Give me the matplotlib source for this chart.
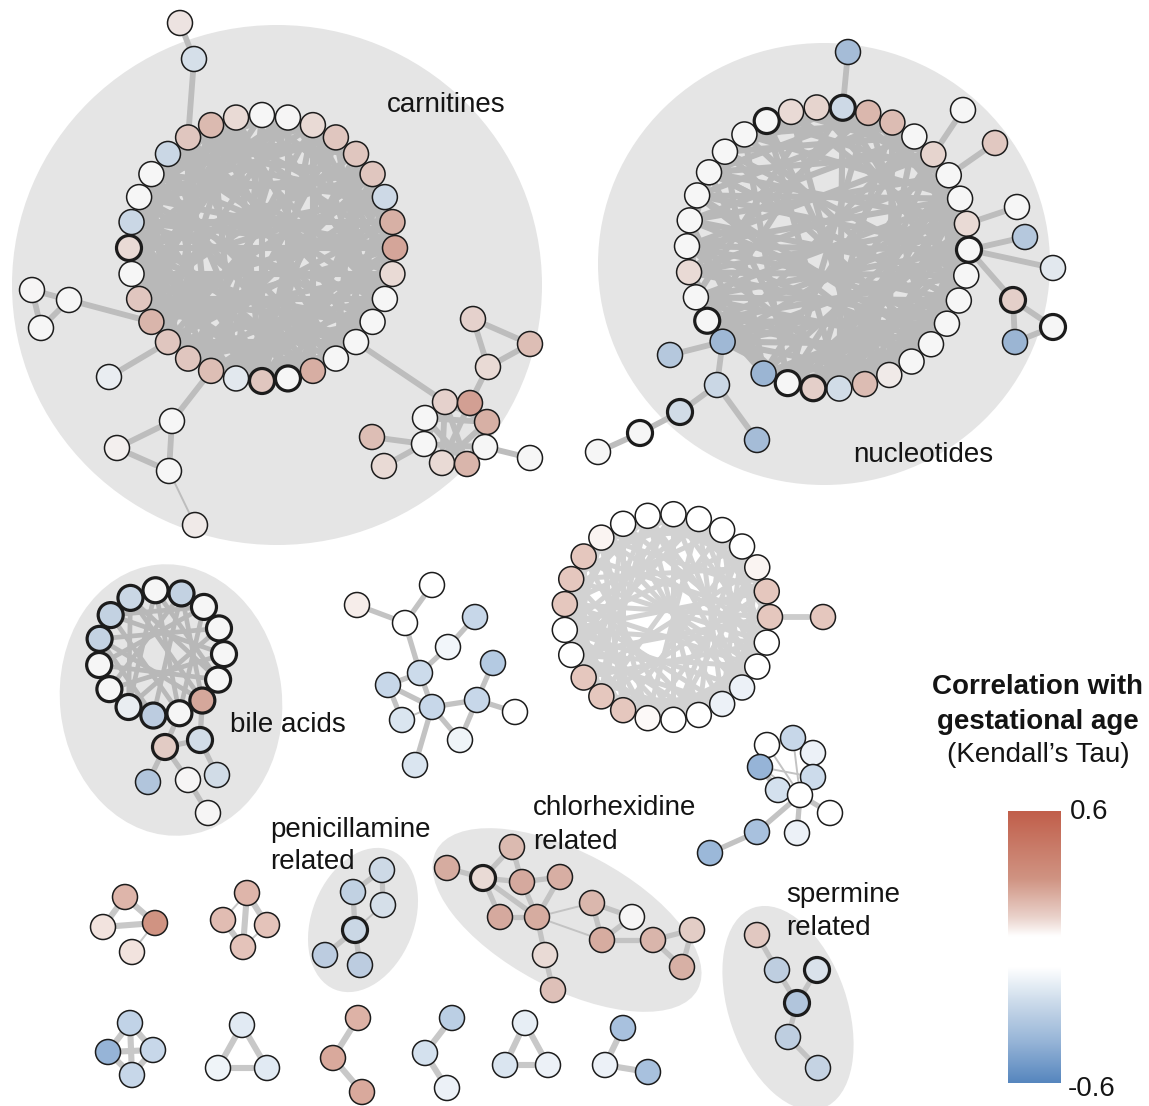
import numpy as np
import matplotlib.pyplot as plt
from matplotlib.patches import Circle, Ellipse
from matplotlib.colors import LinearSegmentedColormap, Normalize, to_rgb

plt.rcParams['font.family'] = ['Liberation Sans', 'DejaVu Sans']

# ---------------- node values: Kendall's tau with gestational age ----------------
carn_ring_tau = [0.0, 0.05, 0.13, 0.21, 0.21, 0.21, -0.28, 0.30, 0.40, 0.13, 0.0, 0.0,
                 0.0, 0.0, 0.32, 0.0, 0.21, -0.18, 0.24, 0.21, 0.21, 0.28, 0.21, 0.0,
                 0.13, -0.30, 0.0, 0.0, -0.30, 0.21, 0.26, 0.13]
carn_ring_bold = [15, 16, 24]
carn_sat_tau = [0.10, -0.24, 0.05, 0.0, 0.0, -0.15, 0.0, 0.07, 0.0, 0.08, 0.16, 0.24,
                0.13, 0.16, 0.45, 0.0, 0.30, 0.0, 0.0, 0.13, 0.28, 0.24, 0.13, 0.0]

# nan = empty slot on the ring
nuc_ring_tau = [-0.28, 0.27, 0.25, 0.0, 0.15, 0.0, 0.0, 0.13, 0.0, 0.0, 0.0, 0.0,
                0.0, 0.04, 0.08, 0.25, -0.26, 0.17, 0.0, -0.52, np.nan, -0.50, 0.0, 0.0,
                0.13, 0.0, 0.0, 0.0, 0.0, 0.0, 0.0, 0.0, 0.13, 0.15]
nuc_ring_bold = [0, 8, 17, 18, 22, 31]
nuc_sat_tau = [-0.47, 0.0, 0.20, 0.0, -0.40, -0.18, 0.17, -0.52, 0.0, -0.40, -0.30,
               -0.26, 0.03, 0.0, -0.47]
nuc_sat_bold = [6, 8, 11, 12]

bile_ring_tau = [0.0, -0.33, 0.0, 0.0, 0.0, 0.0, 0.38, 0.0, -0.37, -0.15, 0.0, 0.0,
                 -0.33, -0.33, -0.30]
bile_sat_tau = [-0.26, 0.19, -0.42, 0.05, -0.26, 0.05]
bile_sat_bold = [0, 1]

mid_ring_tau = [0.16, 0.16, 0.07, 0.0, 0.0, 0.0, 0.0, 0.0, 0.0, 0.07, 0.16, 0.16,
                0.16, 0.0, 0.0, 0.16, 0.16, 0.16, 0.06, 0.0, 0.0, -0.15, -0.15, 0.0, 0.0]
mid_sat_tau = [0.16]

tree_tau = [0.08, 0.0, 0.0, -0.26, -0.13, -0.24, -0.32, -0.26, -0.26, -0.26, 0.0,
            -0.20, -0.14, -0.20]
star_tau = [0.0, -0.26, -0.15, -0.42, -0.24, -0.22, 0.0, 0.0, -0.15, -0.36, -0.40]
chlor_tau = [0.34, 0.13, 0.26, 0.36, 0.32, 0.36, 0.34, 0.27, 0.05, 0.34, 0.28, 0.18,
             0.30, 0.13, 0.23]
penic_tau = [-0.28, -0.34, -0.24, -0.30, -0.37, -0.37]
sperm_tau = [0.20, -0.36, -0.22, -0.42, -0.36, -0.32]
small_tau = {
    'A': [0.21, 0.10, 0.30, 0.10],
    'B': [0.21, 0.19, 0.17, 0.17],
    'C': [-0.28, -0.42, -0.26, -0.26],
    'D': [-0.18, -0.14, -0.18],
    'E': [0.22, 0.24, 0.24],
    'F': [-0.30, -0.22, -0.15],
    'G': [-0.16, -0.20, -0.15],
    'H': [-0.36, -0.15, -0.36],
}

# ---------------- edges ----------------
carn_chords = ("0-16 0-17 1-15 1-18 2-14 2-19 3-16 3-20 4-17 4-22 5-15 5-21 6-24 6-20 "
               "7-25 7-22 8-24 8-26 9-23 9-27 10-25 10-28 11-22 11-26 12-29 12-24 "
               "13-27 13-30 14-31 14-25 15-29 16-28 16-2 17-30 18-3 18-26 19-5 19-29 "
               "20-7 20-31 21-9 21-1 22-10 23-6 23-11 24-12 24-2 25-8 26-13 26-5 "
               "27-14 28-6 28-9 29-11 30-10 31-12 31-16 0-10 0-22 3-11 5-24 6-27 "
               "9-19 10-18 12-20 13-23 14-22 18-28 19-25 21-30 23-29 27-2 1-8 4-12 "
               "7-15 8-17 11-19 15-23 16-24 17-25 20-27 25-1 26-0 29-4 30-7 2-9 3-27 "
               "6-13 8-21 9-14 13-18 21-26 22-28 "
               "0-4 1-5 2-6 3-7 4-8 5-9 6-10 7-11 8-12 9-13 10-14 11-15 12-16 13-17 "
               "14-18 15-19 16-20 17-21 18-22 19-23 20-24 21-25 22-26 23-27 24-28 "
               "25-29 26-30 27-31 28-0 29-1 30-2 31-3 0-7 2-11 4-13 6-16 8-18 10-20 "
               "12-22 14-24 16-26 18-29 20-30 22-31 24-1 26-3 28-5 30-8")
carn_links = ("s0-s1 s1-r29 s2-s3 s2-s4 s3-s4 s3-r21 s5-r20 s6-r18 s6-s7 s6-s8 s7-s8 "
              "s8-s9:t s10-s11 s10-s12 s11-s12 s12-s14 r12-s13 s13-s14 s13-s15 s13-s17 "
              "s13-s19 s13-s20 s13-s16 s14-s16 s14-s15 s14-s18 s14-s19 s15-s17 s15-s16 "
              "s15-s20 s16-s18 s16-s20 s17-s19 s17-s18 s19-s20 s18-s20 s16-s19 "
              "s21-s17 s22-s17 s23-s18")

nuc_chords = ("21-8 21-10 21-12 21-14 22-7 22-9 22-11 22-13 23-6 23-8 23-10 23-12 "
              "24-5 24-7 24-9 24-11 25-4 25-6 25-8 25-10 25-12 26-3 26-5 26-9 26-11 "
              "27-2 27-6 27-8 27-13 28-1 28-4 28-7 28-10 29-0 29-3 29-9 29-12 30-2 "
              "30-6 30-11 31-1 31-5 31-14 32-4 32-8 32-15 33-3 33-9 0-10 0-16 1-12 "
              "1-18 2-14 2-17 3-15 3-19 4-16 4-18 5-14 5-17 6-15 6-19 7-16 7-18 8-17 "
              "9-17 11-19 13-16 19-10 18-9 17-6 16-5 21-6 21-3 22-0 23-33 24-1 19-29 "
              "18-30 15-25 14-23 12-27 10-28 19-24 19-26 18-23 17-28 16-31 "
              "3-9 4-10 5-11 6-12 7-13 8-14 9-15 10-16 11-17 12-18 13-19 2-8 1-7 "
              "0-6 33-5 32-3 31-0 30-33 29-32 28-31 27-30 26-29 25-28 24-27 23-26 "
              "22-25 21-24 19-23 18-22 17-21")
nuc_links = ("s0-r0 s1-r4 s2-r5 s3-r7 s4-r8 s5-r8 s6-r8 s6-s7 s7-s8 s6-s8 s9-r21 "
             "s10-r21 s10-s11 s11-s12 s12-s13 s10-s14")

bile_chords = ("0-7 0-9 1-8 1-10 2-11 2-13 3-12 3-9 4-13 4-10 5-14 5-11 6-12 6-14 "
               "7-13 8-12 9-14 1-6 2-7 0-5")
bile_links = "s0-r6 s1-r7 s0-s1 s2-s1 s3-s1 s4-s0 s5-s3"

mid_chords = ("0-12 0-14 0-10 1-13 1-16 1-9 2-15 2-11 2-19 3-17 3-13 3-21 4-16 4-12 "
              "4-22 5-18 5-14 5-23 6-19 6-15 6-24 7-20 7-16 7-22 8-21 8-17 9-22 9-18 "
              "9-24 10-23 10-19 11-24 11-20 12-21 13-22 13-5 14-23 14-6 15-24 15-7 "
              "16-8 17-9 18-2 18-11 19-3 19-12 20-4 20-13 21-5 21-14 22-6 23-7 24-8 "
              "23-12 24-13 0-5 1-6 2-7 3-8 4-9 5-10 6-11 7-12 8-13 9-14 10-15 11-16 "
              "12-17 13-18 14-19 15-20 16-21 17-22 18-23 19-24 20-0 21-1 22-2 23-3 24-4")
mid_links = "s0-r0"

tree_links = ("n0-n2 n1-n2 n2-n5 n3-n4 n4-n5 n5-n7 n5-n8 n7-n8 n7-n11 n8-n9 n8-n12 "
              "n8-n13 n9-n6 n9-n10 n9-n12 n11-n8:t")
star_links = ("n0-n1 n1-n2 n2-n4 n4-n6 n6-n5 n5-n3 n3-n0 n3-n6:t n0-n6:t n1-n6:t "
              "n3-n4:t n6-n7 n6-n8 n6-n9 n9-n10")
chlor_links = ("n0-n1 n1-n2 n2-n3 n1-n3 n1-n5 n1-n6 n3-n6 n3-n4 n5-n6 n4-n6 n6-n7:t "
               "n6-n9:t n7-n9 n7-n8 n8-n9 n9-n10 n10-n11 n10-n12 n11-n12 n6-n13 n13-n14")
penic_links = "n0-n1 n0-n2 n1-n3 n2-n3:t n3-n4 n3-n5"
sperm_links = "n0-n1 n1-n3 n2-n3 n3-n4 n4-n5"
small_links = {
    'A': "n0-n1 n0-n2 n1-n2 n2-n3:t",
    'B': "n0-n3 n0-n2 n1-n3 n2-n3:t n0-n1:t",
    'C': "n0-n3 n1-n2 n0-n1 n0-n2 n1-n3 n2-n3",
    'D': "n0-n1 n0-n2 n1-n2",
    'E': "n0-n1 n1-n2",
    'F': "n0-n1 n1-n2",
    'G': "n0-n1 n0-n2 n1-n2",
    'H': "n0-n1 n1-n2",
}

# ---------------- layout (pixel coordinates, y downwards) ----------------
carn_sat_xy = [(180, 23), (194, 59), (32, 290), (69, 300), (41, 328), (109, 377),
               (172, 421), (117, 448), (169, 471), (195, 525), (473, 319), (530, 344),
               (488, 367), (445, 402), (470, 403), (425, 418), (487, 422), (424, 444),
               (485, 447), (442, 463), (467, 464), (372, 437), (384, 466), (530, 458)]
nuc_sat_xy = [(848, 52), (963, 110), (995, 143), (1017, 207), (1025, 237), (1053, 268),
              (1013, 300), (1015, 342), (1053, 327), (670, 355), (717, 385), (680, 412),
              (640, 433), (598, 452), (757, 440)]
bile_sat_xy = [(200, 740), (165, 747), (148, 782), (188, 780), (217, 775), (208, 813)]
mid_sat_xy = [(823, 617)]
tree_xy = [(357, 605), (432, 585), (405, 623), (475, 617), (448, 647), (420, 673),
           (493, 663), (388, 685), (432, 707), (477, 700), (515, 712), (402, 720),
           (460, 740), (415, 765)]
star_xy = [(767, 745), (793, 738), (813, 753), (760, 767), (813, 777), (778, 790),
           (800, 795), (830, 813), (797, 833), (757, 832), (710, 853)]
chlor_xy = [(447, 868), (483, 878), (512, 847), (522, 882), (560, 877), (500, 917),
            (537, 917), (592, 903), (632, 917), (602, 940), (653, 940), (692, 930),
            (682, 967), (545, 955), (553, 990)]
penic_xy = [(382, 870), (353, 892), (383, 905), (355, 930), (325, 955), (360, 965)]
sperm_xy = [(757, 935), (777, 970), (817, 970), (797, 1003), (788, 1037), (818, 1068)]
small_xy = {
    'A': [(125, 897), (103, 927), (155, 923), (132, 952)],
    'B': [(247, 893), (223, 920), (267, 925), (243, 947)],
    'C': [(130, 1023), (108, 1052), (153, 1050), (132, 1075)],
    'D': [(242, 1025), (218, 1068), (267, 1068)],
    'E': [(358, 1018), (333, 1058), (362, 1092)],
    'F': [(452, 1018), (425, 1053), (447, 1088)],
    'G': [(525, 1023), (505, 1065), (548, 1065)],
    'H': [(623, 1028), (605, 1065), (648, 1072)],
}

R_NODE = 12.5
EDGE_GREY = '#bdbdbd'
RING_GREY = '#b8b8b8'
BLOB_GREY = '#e5e5e5'

cmap = LinearSegmentedColormap.from_list('tau', [
    (0.0, (86/255, 134/255, 190/255)),
    (0.15, (150/255, 180/255, 215/255)),
    (0.30, (205/255, 220/255, 235/255)),
    (0.425, (1, 1, 1)),
    (0.54, (1, 1, 1)),
    (0.61, (234/255, 210/255, 203/255)),
    (0.75, (208/255, 148/255, 131/255)),
    (1.0, (193/255, 95/255, 75/255)),
])
norm = Normalize(-0.6, 0.6)


def ring_xy(cx, cy, r, n, start, clockwise=True):
    step = -360.0 / n if clockwise else 360.0 / n
    a = np.radians(start + step * np.arange(n))
    return list(zip(cx + r * np.cos(a), cy - r * np.sin(a)))


def parse_edges(s, prefix=''):
    out = []
    for tok in s.split():
        thin = tok.endswith(':t')
        tok = tok.replace(':t', '')
        a, b = tok.split('-')
        out.append((prefix + a, prefix + b, thin))
    return out


def draw_graph(ax, nodes, edges, lw=3.6, color=EDGE_GREY, bg=None, draw_nodes=True):
    # nodes: dict name -> (x, y, tau, bold); nodes are slightly see-through over grey groups
    for a, b, thin in edges:
        if a not in nodes or b not in nodes:
            continue
        xa, ya = nodes[a][:2]
        xb, yb = nodes[b][:2]
        ax.plot([xa, xb], [ya, yb], color=color, lw=1.4 if thin else lw,
                solid_capstyle='butt', zorder=2)
    if not draw_nodes:
        return
    for x, y, t, bold in nodes.values():
        fc = np.array(cmap(norm(t))[:3])
        if bg is not None:
            fc = 0.65 * fc + 0.35 * np.array(to_rgb(bg))
        ax.add_patch(Circle((x, y), R_NODE, fc=fc, ec='#1c1c1c',
                            lw=2.3 if bold else 1.1, zorder=4))


def make_nodes(ring=None, ring_tau=(), ring_bold=(), sat_xy=(), sat_tau=(), sat_bold=(),
               prefix='s'):
    nodes = {}
    if ring is not None:
        for i, (p, t) in enumerate(zip(ring, ring_tau)):
            if np.isnan(t):
                continue
            nodes['r%d' % i] = (p[0], p[1], t, i in ring_bold)
    for i, (p, t) in enumerate(zip(sat_xy, sat_tau)):
        nodes['%s%d' % (prefix, i)] = (p[0], p[1], t, i in sat_bold)
    return nodes


fig = plt.figure(figsize=(11.49, 11.06), dpi=100)
ax = fig.add_axes([0, 0, 1, 1])
ax.set_xlim(0, 1149)
ax.set_ylim(1106, 0)
ax.axis('off')

# grey group backgrounds
blobs = [((277, 285), 530, 520, 0), ((824, 264), 452, 442, 0), ((171, 700), 222, 272, -6),
         ((363, 920), 102, 150, 22), ((567, 920), 296, 136, 28), ((788, 1008), 118, 212, -19)]
for c, w, h, ang in blobs:
    ax.add_patch(Ellipse(c, w, h, angle=ang, fc=BLOB_GREY, ec='none', zorder=0))

# carnitines
ring = ring_xy(262, 248, 133, 32, 90)
nodes = make_nodes(ring, carn_ring_tau, carn_ring_bold, carn_sat_xy, carn_sat_tau)
draw_graph(ax, nodes, parse_edges(carn_chords, 'r'), lw=4.4, color=RING_GREY, draw_nodes=False)
draw_graph(ax, nodes, parse_edges(carn_links), lw=4.2, bg=BLOB_GREY)

# nucleotides
ring = ring_xy(828, 248, 141, 34, 84)
nodes = make_nodes(ring, nuc_ring_tau, nuc_ring_bold, nuc_sat_xy, nuc_sat_tau, nuc_sat_bold)
draw_graph(ax, nodes, parse_edges(nuc_chords, 'r'), lw=4.4, color=RING_GREY, draw_nodes=False)
draw_graph(ax, nodes, parse_edges(nuc_links), lw=4.2, bg=BLOB_GREY)

# bile acids
ring = ring_xy(161, 653, 63, 15, 95)
nodes = make_nodes(ring, bile_ring_tau, range(15), bile_sat_xy, bile_sat_tau, bile_sat_bold)
draw_graph(ax, nodes, parse_edges(bile_chords, 'r'), lw=3.4, color=RING_GREY, draw_nodes=False)
draw_graph(ax, nodes, parse_edges(bile_links), lw=3.8, bg=BLOB_GREY)

# unlabelled ring in the middle
ring = ring_xy(667, 617, 103, 25, 0, clockwise=False)
nodes = make_nodes(ring, mid_ring_tau, (), mid_sat_xy, mid_sat_tau)
draw_graph(ax, nodes, parse_edges(mid_chords, 'r'), lw=3.6, color='#d2d2d2', draw_nodes=False)
draw_graph(ax, nodes, parse_edges(mid_links), lw=4.2, color='#cccccc')

# smaller components
for xy, tau, links, bold, bg in [(tree_xy, tree_tau, tree_links, (), None),
                                 (star_xy, star_tau, star_links, (), None),
                                 (chlor_xy, chlor_tau, chlor_links, (1,), BLOB_GREY),
                                 (penic_xy, penic_tau, penic_links, (3,), BLOB_GREY),
                                 (sperm_xy, sperm_tau, sperm_links, (2, 3), BLOB_GREY)]:
    nodes = make_nodes(sat_xy=xy, sat_tau=tau, sat_bold=bold, prefix='n')
    draw_graph(ax, nodes, parse_edges(links), lw=3.8, color='#c3c3c3', bg=bg)

for key in small_tau:
    nodes = make_nodes(sat_xy=small_xy[key], sat_tau=small_tau[key], prefix='n')
    draw_graph(ax, nodes, parse_edges(small_links[key]), lw=4.4, color='#c8c8c8')

# group labels
txt = dict(fontsize=20, color='#141414', zorder=6)
ax.text(446, 105, 'carnitines', ha='center', va='center', **txt)
ax.text(923, 455, 'nucleotides', ha='center', va='center', **txt)
ax.text(230, 725, 'bile acids', ha='left', va='center', **txt)
ax.text(270, 830, 'penicillamine', ha='left', va='center', **txt)
ax.text(270, 862, 'related', ha='left', va='center', **txt)
ax.text(533, 808, 'chlorhexidine', ha='left', va='center', **txt)
ax.text(533, 842, 'related', ha='left', va='center', **txt)
ax.text(786, 895, 'spermine', ha='left', va='center', **txt)
ax.text(786, 928, 'related', ha='left', va='center', **txt)

# colour legend
ax.text(1038, 687, 'Correlation with', ha='center', va='center', fontweight='bold', **txt)
ax.text(1038, 722, 'gestational age', ha='center', va='center', fontweight='bold', **txt)
ax.text(1038, 755, '(Kendall\u2019s Tau)', ha='center', va='center', **txt)

cax = fig.add_axes([1008 / 1149, 1 - 1083 / 1106, 53 / 1149, 272 / 1106])
grad = np.linspace(0.6, -0.6, 256).reshape(-1, 1)
cax.imshow(grad, cmap=cmap, norm=norm, aspect='auto')
cax.axis('off')
ax.text(1070, 812, '0.6', ha='left', va='center', **txt)
ax.text(1068, 1089, '-0.6', ha='left', va='center', **txt)

fig.savefig('out.png', dpi=100)
